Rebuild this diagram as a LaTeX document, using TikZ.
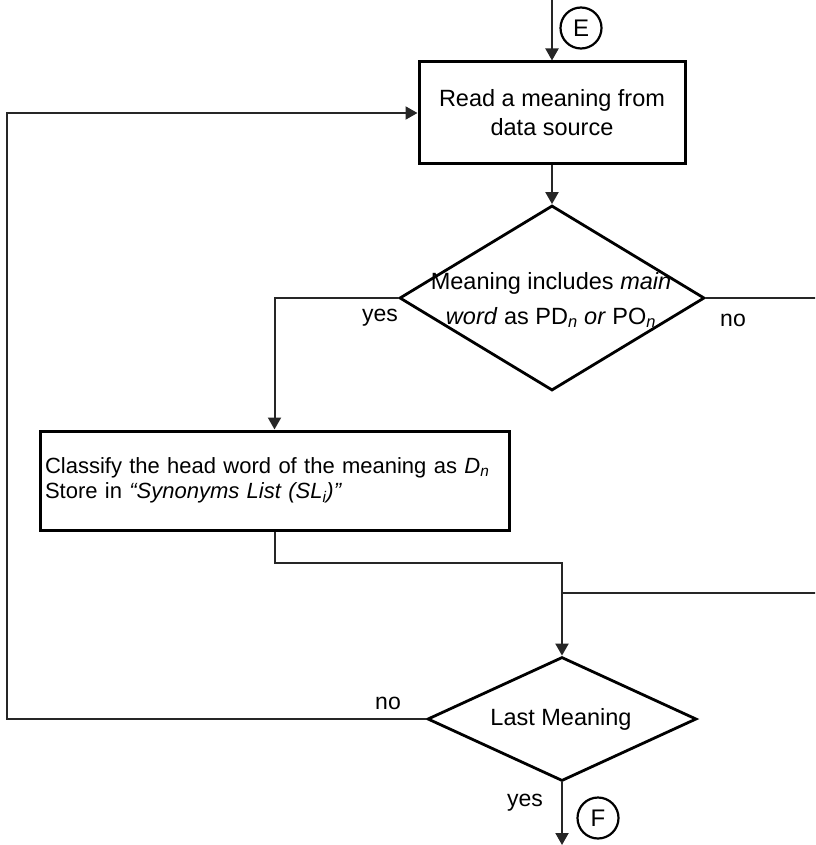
\documentclass[tikz,border=0pt]{standalone}
\usepackage{fontspec}
\setmainfont{Liberation Sans}
\usetikzlibrary{arrows.meta,shapes.geometric}
\begin{document}
\begin{tikzpicture}[x=1pt,y=-1pt,
  line/.style={line width=2pt, draw=black!85},
  arr/.style={line, -{Triangle[length=12pt,width=13pt]}},
  procbox/.style={draw, line width=3pt, inner sep=0pt},
  decision/.style={diamond, draw, line width=2.8pt, inner sep=0pt},
  conn/.style={circle, draw, line width=2.2pt, minimum size=41pt, inner sep=0pt, font=\fontsize{24}{24}\selectfont},
  lbl/.style={font=\fontsize{23}{26}\selectfont, inner sep=0pt},
  txt/.style={font=\fontsize{23.5}{35}\selectfont, inner sep=0pt, align=center}
]
\clip (0,0) rectangle (815,845);
\useasboundingbox (0,0) rectangle (815,845);

% nodes
\node[conn] (E) at (581,28) {E};
\coordinate (top) at (552,0);
\node[procbox, minimum width=266pt, minimum height=102pt, align=center,
      font=\fontsize{23.5}{29}\selectfont] (b1) at (552,113) {Read a meaning from\\data source};
\node[decision, minimum width=305pt, minimum height=185pt] (d1) at (552,298) {};
\node[txt] (d1t) at (551,300) {Meaning includes \textit{main}\\\textit{word} as PD\textsubscript{\textit{n}} \textit{or} PO\textsubscript{\textit{n}}};
\node[procbox, minimum width=469pt, minimum height=99pt, text width=459pt, inner xsep=5pt,
      align=left, font=\fontsize{22}{25}\selectfont] (b2) at (274.5,480.5)
      {Classify the head word of the meaning as \textit{D}\textsubscript{\textit{n}}\\Store in \textit{“Synonyms List (SL\textsubscript{i})”}};
\node[decision, minimum width=269pt, minimum height=124pt] (d2) at (562,719) {};
\node[txt] (d2t) at (561,719) {Last Meaning};
\node[conn] (F) at (598,818) {F};
\coordinate (bot) at (562,845);
\coordinate (loopL) at (7,113);
\coordinate (join) at (562,593);
\coordinate (rightX) at (822,298);

% labels
\node[lbl] (yes1) at (380,318) {yes};
\node[lbl] (no1) at (733,320) {no};
\node[lbl] (no2) at (388,703) {no};
\node[lbl] (yes2) at (525,803) {yes};

% connectors
\draw[arr] (top) -- (b1.north);
\draw[arr] (b1.south) -- (d1.north);
\draw[arr] (d1.west) -| (b2.north);
\draw[line] (d1.east) -- (rightX) |- (join);
\draw[arr] (b2.south) -- ++(0,31) -| (d2.north);
\draw[arr] (d2.west) -| (loopL) -- (b1.west);
\draw[arr] (d2.south) -- (bot);
\end{tikzpicture}
\end{document}
